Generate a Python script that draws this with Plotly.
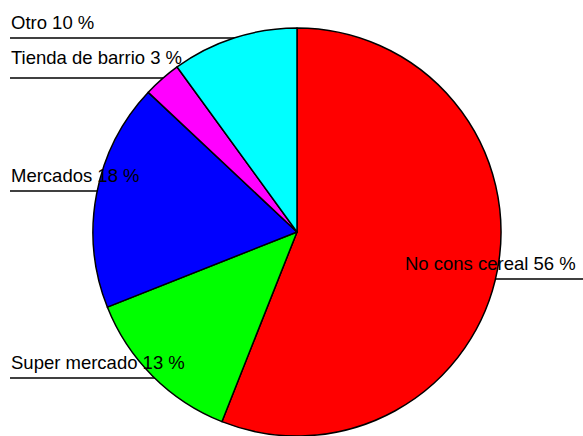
import plotly.graph_objects as go

# Lugar de compra de cereal (porcentajes)
categories = ["No cons cereal", "Super mercado", "Mercados", "Tienda de barrio", "Otro"]
values = [56, 13, 18, 3, 10]
colors = ["#FF0000", "#00FF00", "#0000FF", "#FF00FF", "#00FFFF"]

W, H = 583, 436
FONT = dict(family="Liberation Sans, Arial, sans-serif", size=18.5, color="#000000")

# label placement: (text x px, text center y px, underline x0, underline x1, underline y) in pixels
label_layout = {
    "Otro": (10, 22, 10, 260, 38),
    "Tienda de barrio": (10, 58, 10, 200, 78),
    "Mercados": (10, 175, 10, 120, 191),
    "Super mercado": (10, 362, 10, 180, 378),
    "No cons cereal": (404, 263, 470, 583, 279),
}

fig = go.Figure(
    go.Pie(
        labels=categories,
        values=values,
        sort=False,
        direction="clockwise",
        rotation=0,
        marker=dict(colors=colors, line=dict(color="#000000", width=1.5)),
        textinfo="none",
        hoverinfo="label+percent",
        showlegend=False,
        domain=dict(x=[93 / W, 501 / W], y=[0, 1 - 28 / H]),
    )
)

annotations = []
shapes = []
for cat, val in zip(categories, values):
    tx, ty, lx0, lx1, ly = label_layout[cat]
    annotations.append(
        dict(
            text=f"{cat} {val} %",
            x=tx / W,
            y=1 - ty / H,
            xref="paper",
            yref="paper",
            xanchor="left",
            yanchor="middle",
            showarrow=False,
            font=FONT,
            borderpad=0,
        )
    )
    shapes.append(
        dict(
            type="line",
            xref="paper",
            yref="paper",
            x0=lx0 / W,
            x1=lx1 / W,
            y0=1 - ly / H,
            y1=1 - ly / H,
            line=dict(color="#000000", width=1.5),
            layer="below",
        )
    )

fig.update_layout(
    width=W,
    height=H,
    margin=dict(l=0, r=0, t=0, b=0),
    paper_bgcolor="#FFFFFF",
    plot_bgcolor="#FFFFFF",
    annotations=annotations,
    shapes=shapes,
)

fig.write_html("out.html")
